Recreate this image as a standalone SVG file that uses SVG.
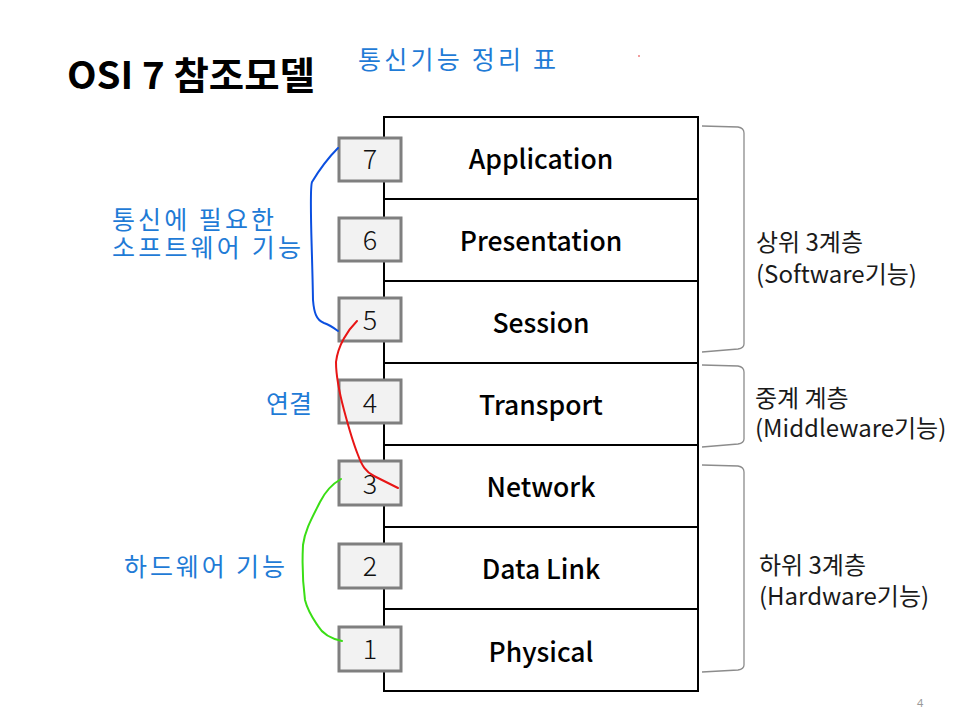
<svg xmlns="http://www.w3.org/2000/svg" width="974" height="717" viewBox="0 0 974 717">
<style>
.layer{fill:#ffffff;stroke:#000000;stroke-width:2}
.lbl{font-family:"Noto Sans CJK KR","Noto Sans",sans-serif;font-size:26.5px;font-weight:500;fill:#000;text-anchor:middle}
.numbox{fill:#f2f2f2;stroke:#7f7f7f;stroke-width:3}
.num{font-family:"Noto Sans CJK KR","Noto Sans",sans-serif;font-size:27px;font-weight:300;fill:#111;text-anchor:middle}
.note{font-family:"Noto Sans CJK KR",sans-serif;font-size:25px;fill:#1f7bd6}
.side{font-family:"Noto Sans CJK KR",sans-serif;font-size:24px;fill:#1a1a1a}
.brace{fill:none;stroke:#8c8c8c;stroke-width:1.3}
.hand{fill:none;stroke-width:2;stroke-linecap:round;stroke-linejoin:round}
</style>
<rect width="974" height="717" fill="#ffffff"/>
<g id="title">
<text x="67" y="89" style="font-family:'Noto Sans CJK KR',sans-serif;font-size:38px;font-weight:bold;fill:#000" textLength="248" lengthAdjust="spacingAndGlyphs">OSI 7 참조모델</text>
<text x="358" y="69" class="note" textLength="198" lengthAdjust="spacing">통신기능 정리 표</text>
<circle cx="639" cy="56" r="0.8" fill="#e02020"/>
</g>
<g id="layer7"><rect class="layer" x="384" y="117" width="314" height="82"/><text class="lbl" x="541" y="169">Application</text></g>
<g id="layer6"><rect class="layer" x="384" y="199" width="314" height="82"/><text class="lbl" x="541" y="251">Presentation</text></g>
<g id="layer5"><rect class="layer" x="384" y="281" width="314" height="82"/><text class="lbl" x="541" y="333">Session</text></g>
<g id="layer4"><rect class="layer" x="384" y="363" width="314" height="82"/><text class="lbl" x="541" y="415">Transport</text></g>
<g id="layer3"><rect class="layer" x="384" y="445" width="314" height="82"/><text class="lbl" x="541" y="497">Network</text></g>
<g id="layer2"><rect class="layer" x="384" y="527" width="314" height="82"/><text class="lbl" x="541" y="579">Data Link</text></g>
<g id="layer1"><rect class="layer" x="384" y="609" width="314" height="82"/><text class="lbl" x="541" y="662">Physical</text></g>
<g id="num7"><rect class="numbox" x="339" y="138" width="62" height="43"/><text class="num" x="370" y="169">7</text></g>
<g id="num6"><rect class="numbox" x="339" y="218" width="62" height="43"/><text class="num" x="370" y="250">6</text></g>
<g id="num5"><rect class="numbox" x="339" y="298" width="62" height="43"/><text class="num" x="370" y="330">5</text></g>
<g id="num4"><rect class="numbox" x="339" y="380" width="62" height="43"/><text class="num" x="370" y="413">4</text></g>
<g id="num3"><rect class="numbox" x="339" y="461" width="62" height="44"/><text class="num" x="370" y="494">3</text></g>
<g id="num2"><rect class="numbox" x="339" y="544" width="62" height="44"/><text class="num" x="370" y="576">2</text></g>
<g id="num1"><rect class="numbox" x="339" y="627" width="62" height="44"/><text class="num" x="370" y="659">1</text></g>
<g id="braces">
<path class="brace" d="M702,126 L738,127 Q744,128 744,133 L744,344 Q744,348 738,349 L702,352"/>
<path class="brace" d="M702,365 L738,366 Q744,367 744,372 L744,439 Q744,443 738,444 L702,447"/>
<path class="brace" d="M702,465 L738,466 Q744,467 744,472 L744,665 Q744,669 738,670 L702,672"/>
</g>
<g id="side-labels">
<text class="side" x="756" y="251">상위 3계층</text>
<text class="side" x="756" y="283">(Software기능)</text>
<text class="side" x="755" y="407">중계 계층</text>
<text class="side" x="755" y="437">(Middleware기능)</text>
<text class="side" x="759" y="574">하위 3계층</text>
<text class="side" x="759" y="605">(Hardware기능)</text>
</g>
<g id="notes">
<text class="note" x="112" y="229" textLength="162" lengthAdjust="spacing">통신에 필요한</text>
<text class="note" x="112" y="257" textLength="189" lengthAdjust="spacing">소프트웨어 기능</text>
<text class="note" x="266" y="413" textLength="46" lengthAdjust="spacing">연결</text>
<text class="note" x="124" y="576" textLength="161" lengthAdjust="spacing">하드웨어 기능</text>
</g>
<g id="connectors">
<path class="hand" stroke="#0b4fe0" d="M338,148 C328,158 318,172 312,182 C309,190 312,240 313,300 C314,312 316,320 324,323 C330,325 334,328 338,331"/>
<path class="hand" stroke="#e81515" d="M357,321 C348,330 338,345 336,362 C336,378 340,395 344,410 C348,425 352,440 358,455 C362,466 366,472 374,476 C384,481 392,485 398,488"/>
<path class="hand" stroke="#3ade15" d="M341,479 C334,483 326,490 320,502 C312,518 305,530 303,545 C302,565 303,585 305,600 C308,612 314,620 318,626 C322,633 328,638 342,641"/>
</g>
<text x="917" y="707" style="font-family:'Noto Sans',sans-serif;font-size:11px;fill:#999">4</text>
</svg>
